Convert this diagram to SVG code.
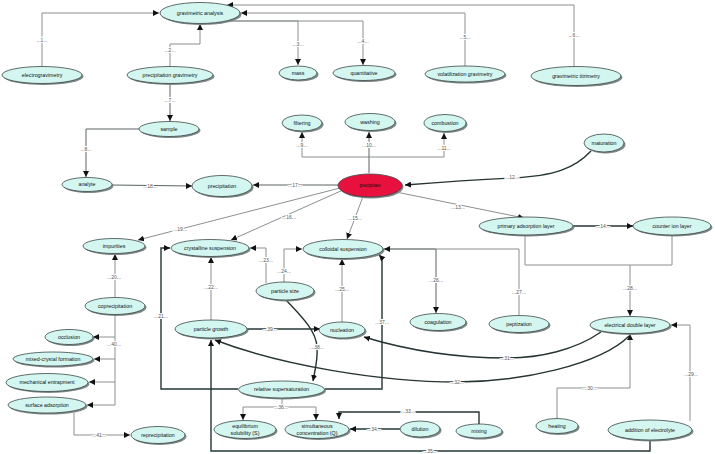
<svg xmlns="http://www.w3.org/2000/svg" width="715" height="454" viewBox="0 0 715 454">
<style>
.n{fill:#d3f6f0;stroke:#3b4848;stroke-width:0.8}
.r{fill:#e8103c;stroke:#3b4848;stroke-width:0.8}
.s{fill:#808888}
.t{font-family:"Liberation Sans",Arial,sans-serif;font-size:5.3px;fill:#111;text-anchor:middle}
.l{font-family:"Liberation Sans",Arial,sans-serif;font-size:5px;fill:#555;text-anchor:middle;stroke:#fff;stroke-width:2.2;paint-order:stroke}
.g{fill:none;stroke:#8c9090;stroke-width:1}
.m{fill:none;stroke:#5a6262;stroke-width:1}
.d{fill:none;stroke:#263434;stroke-width:1.4}
</style>
<defs>
<marker id="a" viewBox="0 0 10 10" refX="10" refY="5" markerWidth="6" markerHeight="6" markerUnits="userSpaceOnUse" orient="auto"><path d="M0,0 L10,5 L0,10 z" fill="#111"/></marker>
</defs>
<rect width="715" height="454" fill="#fff"/>
<g id="connectors">
<path class="g" d="M42,66 V13 H159" marker-end="url(#a)"/>
<path class="g" d="M170,67 V44 H200 V24" marker-end="url(#a)"/>
<path class="g" d="M226,21 H298 V65" marker-end="url(#a)"/>
<path class="g" d="M226,21 H363 V65" marker-end="url(#a)"/>
<path class="g" d="M465,66 V13 H241" marker-end="url(#a)"/>
<path class="g" d="M574,67 V5 H227" marker-end="url(#a)"/>
<path class="m" d="M170,83 V121" marker-end="url(#a)"/>
<path class="m" d="M139,129 H86 V177" marker-end="url(#a)"/>
<path class="g" d="M369,157 H302 V132" marker-end="url(#a)"/>
<path class="m" d="M369,173 V132" marker-end="url(#a)"/>
<path class="g" d="M369,157 H444 V133" marker-end="url(#a)"/>
<path class="d" d="M591,151 C575,168 555,176 512,178 S430,183 405,185" marker-end="url(#a)"/>
<path class="g" d="M396,192 L524,218" marker-end="url(#a)"/>
<path class="d" d="M573,226 H633" marker-end="url(#a)"/>
<path class="g" d="M364,194 L347,239" marker-end="url(#a)"/>
<path class="g" d="M343,190 L231,240" marker-end="url(#a)"/>
<path class="m" d="M338,185 H253" marker-end="url(#a)"/>
<path class="m" d="M112,185 L192,186" marker-end="url(#a)"/>
<path class="g" d="M340,188 L138,240" marker-end="url(#a)"/>
<path class="g" d="M115,297 V254" marker-end="url(#a)"/>
<path class="d" d="M238,389 H161 V248 H170" marker-end="url(#a)"/>
<path class="g" d="M211,320 V257" marker-end="url(#a)"/>
<path class="g" d="M266,283 V248 H250" marker-end="url(#a)"/>
<path class="g" d="M284,282 V249 H302" marker-end="url(#a)"/>
<path class="g" d="M342,322 V259" marker-end="url(#a)"/>
<path class="m" d="M384,249 H436 V313" marker-end="url(#a)"/>
<path class="g" d="M519,315 V249 H384" marker-end="url(#a)"/>
<path class="g" d="M525,235 V265 H672 V235 M630,265 V316" marker-end="url(#a)"/>
<path class="g" d="M690,421 V325 H671" marker-end="url(#a)"/>
<path class="g" d="M557,419 V388 H630 V334" marker-end="url(#a)"/>
<path class="d" d="M601,332 C575,350 540,358 507,358 C450,358 400,348 364,337" marker-end="url(#a)"/>
<path class="d" d="M629,336 C600,365 520,382 457,382 C380,382 280,365 215,340" marker-end="url(#a)"/>
<path class="d" d="M479,424 V412 H339 V419" marker-end="url(#a)"/>
<path class="d" d="M400,429 H350" marker-end="url(#a)"/>
<path class="d" d="M650,440 V451 H211 V340" marker-end="url(#a)"/>
<path class="g" d="M282,398 V407 M243,407 H316"/>
<path class="g" d="M243,407 V420" marker-end="url(#a)"/>
<path class="g" d="M316,407 V420" marker-end="url(#a)"/>
<path class="d" d="M325,389 H382 V258 L379,255" marker-end="url(#a)"/>
<path class="d" d="M286,300 C300,315 316,330 317,347 C318,360 315,370 313,381" marker-end="url(#a)"/>
<path class="d" d="M247,329 H320" marker-end="url(#a)"/>
<path class="g" d="M115,315 V405 H87" marker-end="url(#a)"/>
<path class="g" d="M115,337 H93" marker-end="url(#a)"/>
<path class="g" d="M115,359 H94" marker-end="url(#a)"/>
<path class="g" d="M115,382 H89" marker-end="url(#a)"/>
<path class="g" d="M74,413 V435 H130" marker-end="url(#a)"/>
<text class="l" x="42" y="41.5">...1...</text>
<text class="l" x="170" y="52">...2...</text>
<text class="l" x="298" y="45.5">...3...</text>
<text class="l" x="363" y="42.5">...4...</text>
<text class="l" x="465" y="38.5">...5...</text>
<text class="l" x="574" y="36.5">...6...</text>
<text class="l" x="170" y="101.5">...7...</text>
<text class="l" x="86" y="150.5">...8...</text>
<text class="l" x="302" y="146.5">...9...</text>
<text class="l" x="369" y="146.5">...10...</text>
<text class="l" x="444" y="149.5">...11...</text>
<text class="l" x="512" y="179">...12...</text>
<text class="l" x="458" y="208.5">...13...</text>
<text class="l" x="603" y="227.5">...14...</text>
<text class="l" x="355" y="219.5">...15...</text>
<text class="l" x="289" y="218.5">...16...</text>
<text class="l" x="295" y="186.5">...17...</text>
<text class="l" x="150" y="187.5">...18...</text>
<text class="l" x="180" y="230.5">...19...</text>
<text class="l" x="114" y="278.5">...20...</text>
<text class="l" x="161" y="317.5">...21...</text>
<text class="l" x="211" y="288.5">...22...</text>
<text class="l" x="266" y="261.5">...23...</text>
<text class="l" x="284" y="272.5">...24...</text>
<text class="l" x="342" y="290.5">...25...</text>
<text class="l" x="436" y="281.5">...26...</text>
<text class="l" x="519" y="293.5">...27...</text>
<text class="l" x="630" y="289.5">...28...</text>
<text class="l" x="691" y="375.5">...29...</text>
<text class="l" x="590" y="389.5">...30...</text>
<text class="l" x="507" y="359.5">...31...</text>
<text class="l" x="457" y="383.5">...32...</text>
<text class="l" x="408" y="412.5">...33...</text>
<text class="l" x="374" y="430.5">...34...</text>
<text class="l" x="430" y="452.5">...35...</text>
<text class="l" x="281" y="408.5">...36...</text>
<text class="l" x="382" y="323.5">...37...</text>
<text class="l" x="317" y="348.5">...38...</text>
<text class="l" x="270" y="330.5">...39...</text>
<text class="l" x="114" y="345.5">...40...</text>
<text class="l" x="99" y="436.5">...41...</text>
</g>
<g id="gravimetric-analysis"><ellipse class="s" cx="201.5" cy="14.5" rx="40" ry="10.5"/><ellipse class="n" cx="200" cy="13" rx="40" ry="10.5"/><text class="t" x="200" y="14.8">gravimetric analysis</text></g>
<g id="electrogravimetry"><ellipse class="s" cx="43.5" cy="76.5" rx="40" ry="8.5"/><ellipse class="n" cx="42" cy="75" rx="40" ry="8.5"/><text class="t" x="42" y="76.8">electrogravimetry</text></g>
<g id="precipitation-gravimetry"><ellipse class="s" cx="171.5" cy="76.5" rx="43" ry="8.5"/><ellipse class="n" cx="170" cy="75" rx="43" ry="8.5"/><text class="t" x="170" y="76.8">precipitation gravimetry</text></g>
<g id="mass"><ellipse class="s" cx="299.5" cy="74.5" rx="19" ry="7"/><ellipse class="n" cx="298" cy="73" rx="19" ry="7"/><text class="t" x="298" y="74.8">mass</text></g>
<g id="quantitative"><ellipse class="s" cx="365.5" cy="74.5" rx="31" ry="7.5"/><ellipse class="n" cx="364" cy="73" rx="31" ry="7.5"/><text class="t" x="364" y="74.8">quantitative</text></g>
<g id="volatilization-gravimetry"><ellipse class="s" cx="466.5" cy="75.5" rx="40" ry="8"/><ellipse class="n" cx="465" cy="74" rx="40" ry="8"/><text class="t" x="465" y="75.8">volatilization gravimetry</text></g>
<g id="gravimetric-titrimetry"><ellipse class="s" cx="577.5" cy="77.5" rx="45" ry="9.5"/><ellipse class="n" cx="576" cy="76" rx="45" ry="9.5"/><text class="t" x="576" y="77.8">gravimetric titrimetry</text></g>
<g id="sample"><ellipse class="s" cx="170.5" cy="130.5" rx="30" ry="7.5"/><ellipse class="n" cx="169" cy="129" rx="30" ry="7.5"/><text class="t" x="169" y="130.8">sample</text></g>
<g id="filtering"><ellipse class="s" cx="303.5" cy="124.5" rx="20" ry="8"/><ellipse class="n" cx="302" cy="123" rx="20" ry="8"/><text class="t" x="302" y="124.8">filtering</text></g>
<g id="washing"><ellipse class="s" cx="371.5" cy="123.5" rx="25" ry="8.5"/><ellipse class="n" cx="370" cy="122" rx="25" ry="8.5"/><text class="t" x="370" y="123.8">washing</text></g>
<g id="combustion"><ellipse class="s" cx="446.5" cy="124.5" rx="21" ry="8.5"/><ellipse class="n" cx="445" cy="123" rx="21" ry="8.5"/><text class="t" x="445" y="124.8">combustion</text></g>
<g id="maturation"><ellipse class="s" cx="605.5" cy="144.5" rx="20" ry="9"/><ellipse class="n" cx="604" cy="143" rx="20" ry="9"/><text class="t" x="604" y="144.8">maturation</text></g>
<g id="analyte"><ellipse class="s" cx="88.5" cy="186" rx="25" ry="7"/><ellipse class="n" cx="87" cy="184.5" rx="25" ry="7"/><text class="t" x="87" y="186.3">analyte</text></g>
<g id="precipitation"><ellipse class="s" cx="223.5" cy="187.5" rx="30" ry="10.5"/><ellipse class="n" cx="222" cy="186" rx="30" ry="10.5"/><text class="t" x="222" y="187.8">precipitation</text></g>
<g id="precipitate"><ellipse class="s" cx="371.5" cy="187" rx="32" ry="11.5"/><ellipse class="r" cx="370" cy="185.5" rx="32" ry="11.5"/><text class="t" x="370" y="187.2" style="font-size:4.6px">precipitate</text></g>
<g id="primary-adsorption-layer"><ellipse class="s" cx="527.5" cy="227.5" rx="47" ry="9"/><ellipse class="n" cx="526" cy="226" rx="47" ry="9"/><text class="t" x="526" y="227.8">primary adsorption layer</text></g>
<g id="counter-ion-layer"><ellipse class="s" cx="673.5" cy="227.5" rx="39" ry="9"/><ellipse class="n" cx="672" cy="226" rx="39" ry="9"/><text class="t" x="672" y="227.8">counter ion layer</text></g>
<g id="impurities"><ellipse class="s" cx="115.5" cy="247.5" rx="31" ry="7.5"/><ellipse class="n" cx="114" cy="246" rx="31" ry="7.5"/><text class="t" x="114" y="247.8">impurities</text></g>
<g id="crystalline-suspension"><ellipse class="s" cx="211.5" cy="249.5" rx="39" ry="8.5"/><ellipse class="n" cx="210" cy="248" rx="39" ry="8.5"/><text class="t" x="210" y="249.8">crystalline suspension</text></g>
<g id="colloidal-suspension"><ellipse class="s" cx="344.5" cy="250.5" rx="40" ry="9.5"/><ellipse class="n" cx="343" cy="249" rx="40" ry="9.5"/><text class="t" x="343" y="250.8">colloidal suspension</text></g>
<g id="particle-size"><ellipse class="s" cx="286.5" cy="292.5" rx="29" ry="9"/><ellipse class="n" cx="285" cy="291" rx="29" ry="9"/><text class="t" x="285" y="292.8">particle size</text></g>
<g id="coprecipitation"><ellipse class="s" cx="116.5" cy="307.5" rx="30" ry="8.5"/><ellipse class="n" cx="115" cy="306" rx="30" ry="8.5"/><text class="t" x="115" y="307.8">coprecipitation</text></g>
<g id="coagulation"><ellipse class="s" cx="439.5" cy="323.5" rx="28" ry="8.5"/><ellipse class="n" cx="438" cy="322" rx="28" ry="8.5"/><text class="t" x="438" y="323.8">coagulation</text></g>
<g id="peptization"><ellipse class="s" cx="520.5" cy="325.5" rx="30" ry="8.5"/><ellipse class="n" cx="519" cy="324" rx="30" ry="8.5"/><text class="t" x="519" y="325.8">peptization</text></g>
<g id="electrical-double-layer"><ellipse class="s" cx="631.5" cy="326.5" rx="40" ry="8.5"/><ellipse class="n" cx="630" cy="325" rx="40" ry="8.5"/><text class="t" x="630" y="326.8">electrical double layer</text></g>
<g id="particle-growth"><ellipse class="s" cx="212.5" cy="330.5" rx="36" ry="9"/><ellipse class="n" cx="211" cy="329" rx="36" ry="9"/><text class="t" x="211" y="330.8">particle growth</text></g>
<g id="nucleation"><ellipse class="s" cx="343.5" cy="331.5" rx="23" ry="8"/><ellipse class="n" cx="342" cy="330" rx="23" ry="8"/><text class="t" x="342" y="331.8">nucleation</text></g>
<g id="occlusion"><ellipse class="s" cx="70.5" cy="338.5" rx="24" ry="7.5"/><ellipse class="n" cx="69" cy="337" rx="24" ry="7.5"/><text class="t" x="69" y="338.8">occlusion</text></g>
<g id="mixed-crystal-formation"><ellipse class="s" cx="54.5" cy="360.5" rx="40" ry="7"/><ellipse class="n" cx="53" cy="359" rx="40" ry="7"/><text class="t" x="53" y="360.8">mixed-crystal formation</text></g>
<g id="mechanical-entrapment"><ellipse class="s" cx="48.5" cy="384" rx="41" ry="9"/><ellipse class="n" cx="47" cy="382.5" rx="41" ry="9"/><text class="t" x="47" y="384.3">mechanical entrapment</text></g>
<g id="surface-adsorption"><ellipse class="s" cx="48.5" cy="406.5" rx="39" ry="8"/><ellipse class="n" cx="47" cy="405" rx="39" ry="8"/><text class="t" x="47" y="406.8">surface adsorption</text></g>
<g id="relative-supersaturation"><ellipse class="s" cx="283" cy="391" rx="43" ry="8.5"/><ellipse class="n" cx="281.5" cy="389.5" rx="43" ry="8.5"/><text class="t" x="281.5" y="391.3">relative supersaturation</text></g>
<g id="reprecipitation"><ellipse class="s" cx="159.5" cy="436.5" rx="27" ry="8.5"/><ellipse class="n" cx="158" cy="435" rx="27" ry="8.5"/><text class="t" x="158" y="436.8">reprecipitation</text></g>
<g id="equilibrium-solubility"><ellipse class="s" cx="246.5" cy="431" rx="31" ry="9"/><ellipse class="n" cx="245" cy="429.5" rx="31" ry="9"/><text class="t" x="245" y="428">equilibrium</text><text class="t" x="245" y="434.5">solubility (S)</text></g>
<g id="simultaneous-concentration"><ellipse class="s" cx="318.5" cy="431" rx="32" ry="9"/><ellipse class="n" cx="317" cy="429.5" rx="32" ry="9"/><text class="t" x="317" y="428">simultaneous</text><text class="t" x="317" y="434.5">concentration (Q)</text></g>
<g id="dilution"><ellipse class="s" cx="421.5" cy="430.5" rx="20" ry="8"/><ellipse class="n" cx="420" cy="429" rx="20" ry="8"/><text class="t" x="420" y="430.8">dilution</text></g>
<g id="mixing"><ellipse class="s" cx="480.5" cy="432.5" rx="23" ry="7"/><ellipse class="n" cx="479" cy="431" rx="23" ry="7"/><text class="t" x="479" y="432.8">mixing</text></g>
<g id="heating"><ellipse class="s" cx="558.5" cy="427.5" rx="21" ry="7.5"/><ellipse class="n" cx="557" cy="426" rx="21" ry="7.5"/><text class="t" x="557" y="427.8">heating</text></g>
<g id="addition-of-electrolyte"><ellipse class="s" cx="651.5" cy="431.5" rx="42" ry="10"/><ellipse class="n" cx="650" cy="430" rx="42" ry="10"/><text class="t" x="650" y="431.8">addition of electrolyte</text></g>
</svg>
